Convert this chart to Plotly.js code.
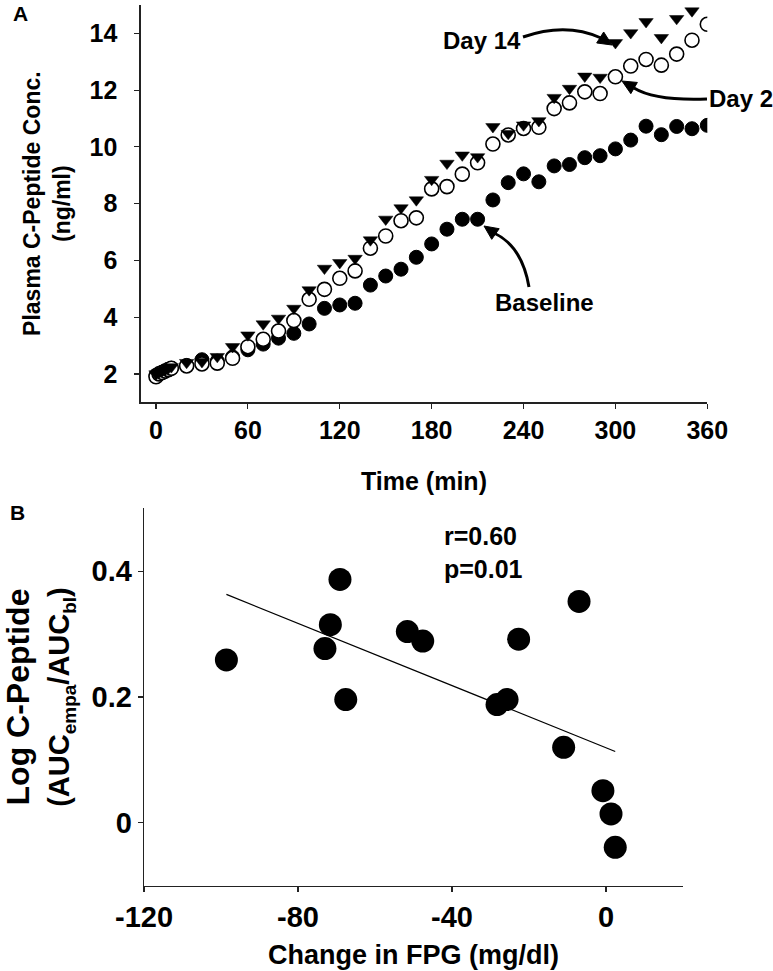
<!DOCTYPE html>
<html>
<head>
<meta charset="utf-8">
<script src="https://cdn.plot.ly/plotly-3.0.1.min.js"></script>
<style>html,body{margin:0;padding:0;background:#fff;}#chart{width:773px;height:971px;}</style>
</head>
<body>
<div id="chart"></div>
<script>
// ---------- Panel A data ----------
const timeMin = [0,2,4,6,8,10,20,30,40,50,60,70,80,90,100,110,120,130,140,150,160,170,180,190,200,210,220,230,240,250,260,270,280,290,300,310,320,330,340,350,360];
const baseline = [1.95,2.0,2.05,2.1,2.15,2.2,2.3,2.5,2.45,2.6,2.85,3.05,3.26,3.43,3.76,4.31,4.43,4.49,5.13,5.45,5.69,6.11,6.58,7.1,7.45,7.45,8.13,8.74,9.05,8.77,9.33,9.38,9.62,9.69,9.93,10.24,10.73,10.43,10.72,10.64,10.76];
const day2 = [1.9,2.0,2.05,2.1,2.15,2.2,2.28,2.35,2.38,2.55,2.96,3.22,3.51,3.88,4.63,4.98,5.37,5.63,6.43,6.86,7.4,7.5,8.52,8.6,9.04,9.44,10.10,10.42,10.65,10.69,11.35,11.55,11.94,11.88,12.47,12.85,13.08,12.88,13.27,13.76,14.32];
const day14 = [2.0,2.05,2.1,2.15,2.2,2.25,2.40,2.43,2.61,2.96,3.37,3.76,3.96,4.31,4.96,5.72,5.92,6.07,6.72,7.45,7.85,8.13,8.85,9.42,9.71,9.65,10.71,10.47,10.77,10.92,11.74,12.06,12.49,12.45,13.67,14.02,14.41,13.85,14.52,14.79,null];
const xTicksA = [0,60,120,180,240,300,360];
const yTicksA = [2,4,6,8,10,12,14];
const titleXA = 'Time (min)';
const titleYA = 'Plasma C-Peptide Conc.<br>(ng/ml)';

// ---------- Panel B data ----------
const fpgChange = [-98.6,-69.1,-71.6,-73.0,-67.6,-51.6,-47.6,-22.7,-7.0,-28.3,-25.7,-11.0,-0.8,1.3,2.4];
const logCpep = [0.259,0.387,0.315,0.277,0.196,0.304,0.289,0.292,0.352,0.188,0.196,0.120,0.051,0.014,-0.039];
const xTicksB = [-120,-80,-40,0];
const xTickTextB = ['-120','-80','-40','0'];
const yTicksB = [0,0.2,0.4];
const yTickTextB = ['0','0.2','0.4'];
const titleXB = 'Change in FPG (mg/dl)';
const SUB = 'font-size:19px;baseline-shift:-7px';
const titleYB = '<span style="font-size:32px">Log C-Peptide</span><br><span style="font-size:29px">(AUC<span style="' + SUB + '">empa</span>/AUC<span style="' + SUB + '">bl</span>)</span>';
const statLines = ['r=0.60','p=0.01'];

// least-squares fit line for panel B
const n = fpgChange.length;
const mx = fpgChange.reduce((a,b)=>a+b,0)/n;
const my = logCpep.reduce((a,b)=>a+b,0)/n;
let sxy=0,sxx=0;
for(let i=0;i<n;i++){sxy+=(fpgChange[i]-mx)*(logCpep[i]-my);sxx+=(fpgChange[i]-mx)**2;}
const slope = sxy/sxx, icpt = my - slope*mx;
const fitX = [Math.min(...fpgChange), Math.max(...fpgChange)];
const fitY = fitX.map(x=>icpt+slope*x);

const W=773,H=971;
const FONT = 'Liberation Sans, Arial, Helvetica, sans-serif';
const px = x => x/W;
const py = y => 1 - y/H;
const f = (size) => ({family:FONT, size:size, color:'#000', weight:700});

const traces = [
  {x: timeMin, y: baseline, xaxis:'x', yaxis:'y', type:'scatter', mode:'markers', name:'Baseline',
   marker:{symbol:'circle', size:14, color:'#000', line:{color:'#000', width:1}}},
  {x: timeMin, y: day2, xaxis:'x', yaxis:'y', type:'scatter', mode:'markers', name:'Day 2',
   marker:{symbol:'circle', size:14, color:'#fff', line:{color:'#000', width:1.6}}},
  {x: timeMin, y: day14, xaxis:'x', yaxis:'y', type:'scatter', mode:'markers', name:'Day 14',
   marker:{symbol:'triangle-down', size:12.5, color:'#000', line:{color:'#000', width:0.5}}},
  {x: fitX, y: fitY, xaxis:'x2', yaxis:'y2', type:'scatter', mode:'lines', name:'fit',
   line:{color:'#000', width:1.2}},
  {x: fpgChange, y: logCpep, xaxis:'x2', yaxis:'y2', type:'scatter', mode:'markers', name:'subjects',
   marker:{symbol:'circle', size:23, color:'#000'}}
];

function axisBase(){
  return {showline:true, linecolor:'#222', linewidth:1.3, ticks:'outside', ticklen:5, tickwidth:1.2,
    tickcolor:'#222', showgrid:false, zeroline:false, mirror:false, fixedrange:true, automargin:false};
}
const layout = {
  width:W, height:H, showlegend:false, paper_bgcolor:'#fff', plot_bgcolor:'#fff',
  margin:{l:0,r:0,t:0,b:0},
  font:{family:FONT, color:'#000', weight:700},
  xaxis: Object.assign(axisBase(), {domain:[px(140.7), px(707.3)], range:[-10,360], anchor:'y',
    tickvals:xTicksA, tickfont:f(25), title:{text:titleXA, font:f(25), standoff:30}}),
  yaxis: Object.assign(axisBase(), {domain:[py(402.3), py(5)], range:[1,15], anchor:'x',
    tickvals:yTicksA, tickfont:f(25), ticklabelstandoff:12,
    title:{text:titleYA, font:f(23), standoff:12}}),
  xaxis2: Object.assign(axisBase(), {domain:[px(144), px(683)], range:[-120,20], anchor:'y2',
    tickvals:xTicksB, ticktext:xTickTextB, tickfont:f(29), title:{text:titleXB, font:f(27), standoff:13}}),
  yaxis2: Object.assign(axisBase(), {domain:[py(885.7), py(508.3)], range:[-0.1,0.5], anchor:'x2',
    tickvals:yTicksB, ticktext:yTickTextB, tickfont:f(29), ticklabelstandoff:0,
    title:{text:titleYB, font:f(31), standoff:25}}),
  annotations: [],
  shapes: []
};

function ann(text, x, y, size, opts){
  layout.annotations.push(Object.assign({text:text, xref:'paper', yref:'paper', x:px(x), y:py(y),
    showarrow:false, xanchor:'center', yanchor:'middle', font:f(size)}, opts||{}));
}
// panel letters
ann('A', 20, 14, 21);
ann('B', 17, 512, 21);
// stats
ann(statLines[0], 441.7, 536, 25, {xanchor:'left'});
ann(statLines[1], 441.7, 569, 25, {xanchor:'left'});
// series labels
ann('Day 14', 482, 40, 24);
ann('Day 2', 707, 98, 24, {xanchor:'left'});
ann('Baseline', 544, 302, 24);

// curved arrows (pixel positions, converted to paper)
function arrow(tail, ctrl, end, tip, w){
  const P = p => px(p[0]) + ' ' + py(p[1]);
  layout.shapes.push({type:'path', xref:'paper', yref:'paper', layer:'above',
    path:'M ' + P(tail) + ' Q ' + P(ctrl) + ' ' + P(end),
    line:{color:'#000', width:w}, fillcolor:'rgba(0,0,0,0)'});
  const dx = tip[0]-end[0], dy = tip[1]-end[1];
  const L = Math.hypot(dx,dy), ux = dx/L, uy = dy/L;
  const hl = 14, hw = 6.5;
  const bx = tip[0]-ux*hl, by = tip[1]-uy*hl;
  const a = [bx - uy*hw, by + ux*hw], b = [bx + uy*hw, by - ux*hw];
  layout.shapes.push({type:'path', xref:'paper', yref:'paper', layer:'above',
    path:'M ' + P(tip) + ' L ' + P(a) + ' L ' + P(b) + ' Z',
    line:{color:'#000', width:1}, fillcolor:'#000'});
}
arrow([523,37],[566,22],[601,38],[612,45],3);
arrow([707,99],[655,101],[634,88],[622,81],3);
arrow([529,287],[522,246],[494,233],[484,226],3);

Plotly.newPlot('chart', traces, layout, {displayModeBar:false, staticPlot:true});
</script>
</body>
</html>
